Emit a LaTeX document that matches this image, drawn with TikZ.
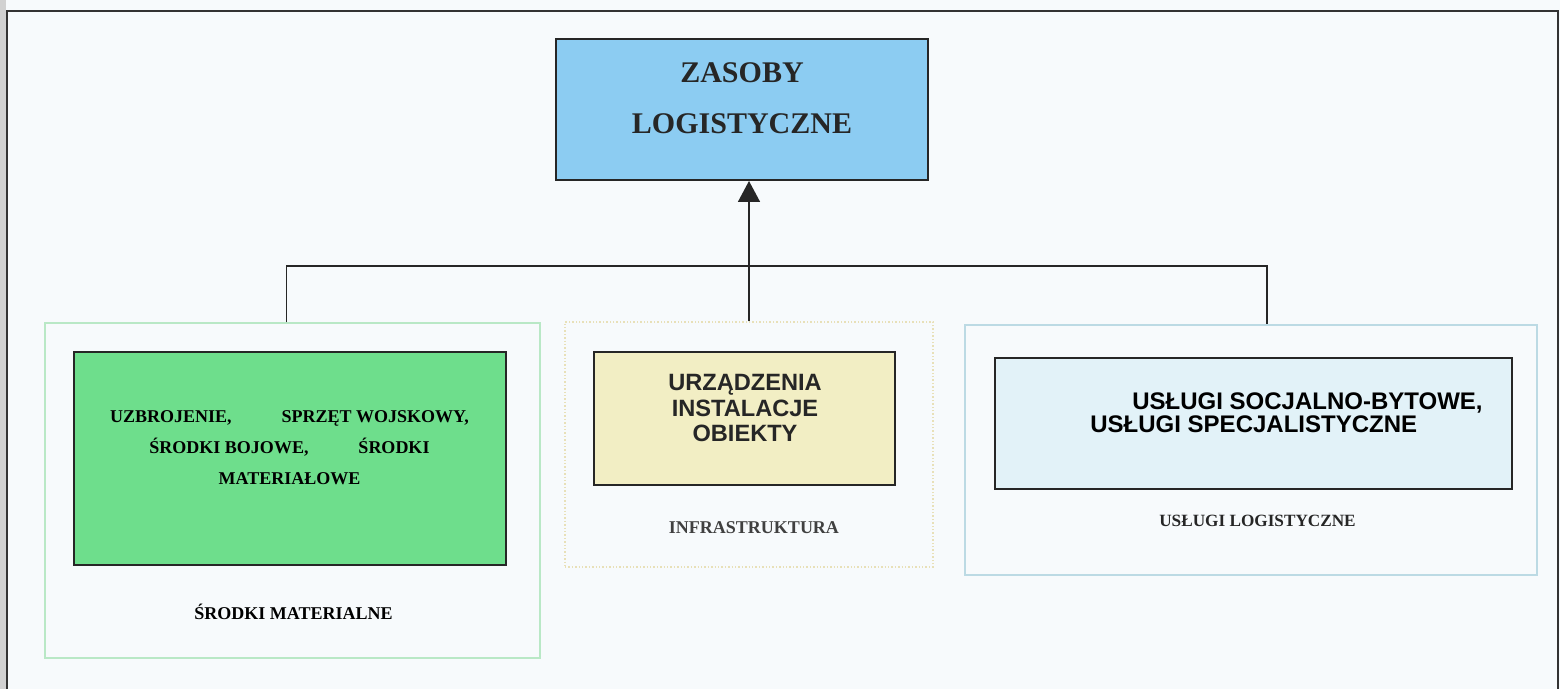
\documentclass[tikz,border=0pt]{standalone}
\usepackage{fontspec}
\setmainfont{Liberation Serif}
\newfontfamily\arialfont{Liberation Sans}
\usetikzlibrary{arrows.meta}
\definecolor{paper}{RGB}{247,250,252}
\definecolor{zasobyblue}{RGB}{140,204,242}
\definecolor{matgreen}{RGB}{110,222,140}
\definecolor{infyellow}{RGB}{242,238,196}
\definecolor{uslblue}{RGB}{226,242,248}
\definecolor{matframe}{RGB}{185,232,198}
\definecolor{infframe}{RGB}{232,224,184}
\definecolor{uslframe}{RGB}{188,218,228}
\tikzstyle{box}=[draw=black!85,line width=1.3pt,inner sep=0pt]
\tikzstyle{frame}=[line width=.7pt,inner sep=0pt]
\tikzstyle{conn}=[line width=.8pt,black!85]
\tikzstyle{up}=[conn,-{Triangle[length=10.5pt,width=11pt]}]
\tikzstyle{serifbf}=[font=\bfseries\fontsize{9}{10}\selectfont,inner sep=0pt]
\tikzstyle{arialbf}=[font=\arialfont\bfseries\fontsize{11.8}{12.75}\selectfont,inner sep=0pt]

\begin{document}
\begin{tikzpicture}[x=.5pt,y=-.5pt]
	\fill[paper] (0,0) rectangle (1560,689);
	\fill[black!18] (0,0) rectangle (6,689);
	\draw[line width=1pt,black!80] (7,689) -- (7,11) -- (1558,11) -- (1558,689);
	% top
	\node[box,fill=zasobyblue,line width=1pt,minimum width=186pt,minimum height=70.5pt] (zasoby) at (742,109.5) {};
	\node[font=\bfseries\fontsize{15}{25.5}\selectfont,align=center,inner sep=0pt,black!85] (zasobytxt) at (742,98) {ZASOBY\\LOGISTYCZNE};
	% frames
	\node[frame,draw=matframe,minimum width=247.5pt,minimum height=167.5pt] (matfr) at (292.5,490.5) {};
	\node[frame,draw=infframe,densely dotted,minimum width=184pt,minimum height=122.5pt] (inffr) at (749,444.5) {};
	\node[frame,draw=uslframe,minimum width=286pt,minimum height=125pt] (uslfr) at (1251,450) {};
	% boxes
	\node[box,fill=matgreen,minimum width=216pt,minimum height=106.5pt] (mat) at (290,458.5) {};
	\node[box,fill=infyellow,minimum width=150.5pt,minimum height=66.5pt] (inf) at (744.5,418.5) {};
	\node[box,fill=uslblue,minimum width=258.5pt,minimum height=65.5pt] (usl) at (1253.5,423.5) {};
	% texts
	\node[serifbf,font=\bfseries\fontsize{9}{15.5}\selectfont,align=center] (mattxt) at (289.5,448)
		{UZBROJENIE,\hspace{25pt}SPRZĘT WOJSKOWY,\\ŚRODKI BOJOWE,\hspace{25pt}ŚRODKI\\MATERIAŁOWE};
	\node[arialbf,align=center,black!85] (inftxt) at (745,408) {URZĄDZENIA\\INSTALACJE\\OBIEKTY};
	\node[arialbf,font=\arialfont\bfseries\fontsize{12}{11.5}\selectfont,align=left,anchor=west] (usltxt) at (1090,413)
		{\hspace*{21pt}USŁUGI SOCJALNO-BYTOWE,\\USŁUGI SPECJALISTYCZNE};
	\node[serifbf] (matlbl) at (293.5,612) {ŚRODKI MATERIALNE};
	\node[serifbf,black!75] (inflbl) at (754,528) {INFRASTRUKTURA};
	\node[serifbf,font=\bfseries\fontsize{8.6}{10}\selectfont,black!85] (usllbl) at (1257.5,521) {USŁUGI LOGISTYCZNE};
	% connectors
	\coordinate (bus) at (748,266);
	\draw[conn] ([xshift=-3pt]matfr.north) |- (bus) -| ([xshift=8pt]uslfr.north);
	\draw[up] (inffr.north) -- (inffr.north |- zasoby.south);
\end{tikzpicture}
\end{document}
